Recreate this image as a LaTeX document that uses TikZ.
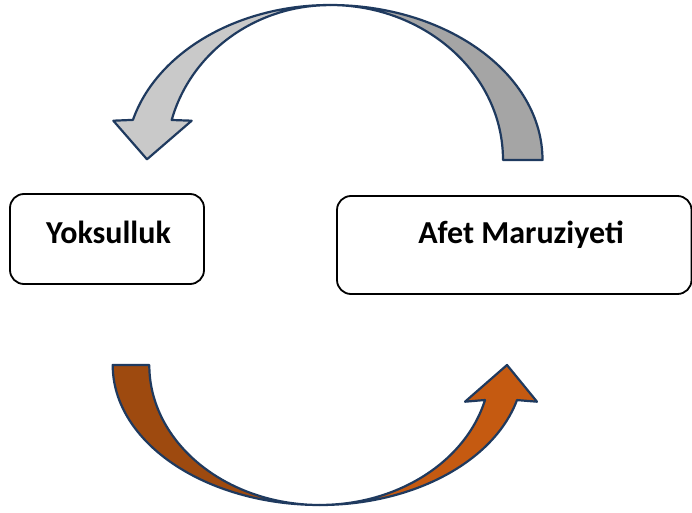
\documentclass[tikz,border=0pt]{standalone}
\usepackage{fontspec}
\setmainfont{Carlito}
\definecolor{outl}{HTML}{1F3A5F}
\definecolor{lgray}{HTML}{C9C9C9}
\definecolor{dgray}{HTML}{A5A5A5}
\definecolor{dorange}{HTML}{9E4A0F}
\definecolor{lorange}{HTML}{C55A11}
\tikzset{
  box/.style={draw=black, line width=1.8pt, rounded corners=14pt, fill=white, inner sep=0pt},
  lbl/.style={anchor=base, inner sep=0pt, font=\fontsize{32}{38}\selectfont\bfseries},
  band/.style={draw=outl, line width=2.2pt, line join=round}
}
\begin{document}
\begin{tikzpicture}[x=1pt,y=1pt]
\useasboundingbox (0,0) rectangle (692,512);
% top arrow: back band (dark gray)
\draw[band, fill=dgray] (542.5,352) arc[start angle=0, end angle=90, x radius=212.5, y radius=155]
  arc[start angle=90, end angle=0, x radius=173, y radius=155] -- cycle;
% top arrow: front band with head (light gray)
\draw[band, fill=lgray] (330,507) arc[start angle=90, end angle=165, x radius=204, y radius=155]
  -- (113.3,391.3) -- (147,352.7) -- (191.7,391.3) -- (171.7,392)
  arc[start angle=165, end angle=90, x radius=163.5, y radius=155] -- cycle;
% bottom arrow: back band (dark orange)
\draw[band, fill=dorange] (112.7,147) arc[start angle=180, end angle=270, x radius=207.3, y radius=140]
  arc[start angle=270, end angle=180, x radius=170.7, y radius=140] -- cycle;
% bottom arrow: front band with head (light orange)
\draw[band, fill=lorange] (320,7) arc[start angle=270, end angle=345.5, x radius=203.5, y radius=140]
  -- (537,110.3) -- (507,147) -- (465,110.3) -- (485,112)
  arc[start angle=345.5, end angle=270, x radius=170.5, y radius=140] -- cycle;
% boxes
\node[box, minimum width=194pt, minimum height=90pt] (yboxn) at (107,273) {};
\node[box, minimum width=354.5pt, minimum height=98pt] (aboxn) at (514.25,267) {};
\node[lbl] (ytext) at (108.5,269) {Yoksulluk};
\node[lbl] (atext) at (521,269) {Afet Maruziyeti};
\end{tikzpicture}
\end{document}
